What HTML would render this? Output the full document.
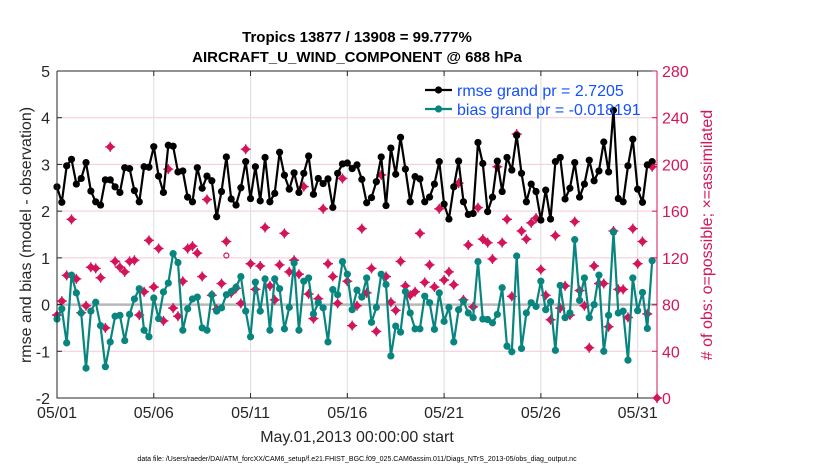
<!DOCTYPE html>
<html><head><meta charset="utf-8"><style>
body{margin:0;background:#fff;}
svg{display:block;font-family:"Liberation Sans",Arial,sans-serif;}
</style></head><body>
<svg id="chart" width="830" height="470" viewBox="0 0 830 470" xmlns="http://www.w3.org/2000/svg">
<rect x="0" y="0" width="830" height="470" fill="#fff"/>
<g id="grid"></g>
<g id="marks"></g>
<g id="axes"></g>
</svg>
<script>
const rmse=[2.52,2.19,2.97,3.11,2.58,2.70,3.04,2.43,2.20,2.13,2.67,2.67,2.52,2.40,2.93,2.91,2.44,2.20,2.95,2.94,3.38,2.75,2.40,3.41,3.39,2.84,2.86,2.30,2.20,2.93,2.49,
2.75,2.65,1.88,2.42,3.16,2.26,2.13,2.50,3.06,2.27,2.95,2.22,3.15,2.20,2.38,3.26,2.77,2.47,2.82,2.40,2.81,3.18,2.36,2.70,2.59,2.69,2.08,2.81,3.01,3.03,2.91,
2.99,2.68,2.18,2.29,2.63,3.16,2.12,3.35,2.79,3.58,2.90,2.20,2.74,2.69,2.20,2.30,2.58,3.06,2.15,1.83,2.52,3.07,2.20,1.93,1.95,3.47,3.02,1.99,2.30,3.07,2.42,
3.15,2.88,3.62,2.81,2.20,2.58,2.42,1.81,2.45,1.83,3.06,3.15,2.26,2.49,3.04,2.30,2.58,3.09,2.65,2.86,3.48,2.84,4.16,2.27,2.20,2.97,3.54,2.47,2.19,2.99,3.06,null];
const bias=[-0.31,-0.09,-0.82,0.63,0.25,-0.18,-1.36,-0.14,0.05,-0.45,-1.33,-0.80,-0.25,-0.23,-0.77,-0.21,0.12,0.34,-0.55,-0.69,0.14,-0.30,0.27,0.46,1.09,0.90,-0.55,-0.09,0.12,0.16,-0.50,
-0.55,0.21,-0.14,-0.07,0.21,0.28,0.37,0.60,-0.14,-0.69,0.48,-0.14,0.55,-0.55,0.55,0.34,-0.52,-0.06,0.89,-0.55,0.50,0.57,-0.20,0.04,-0.07,-0.80,0.32,0.21,0.92,0.65,-0.11,
0.31,0.16,0.57,-0.38,-0.06,0.65,0.43,-1.10,-0.46,-0.59,0.28,-0.18,-0.52,-0.52,0.18,0.04,-0.53,0.25,-0.36,-0.06,-0.80,-0.11,0.07,-0.18,-0.28,0.92,-0.31,-0.32,-0.39,-0.21,0.36,
-0.89,-1.01,1.04,-0.94,-0.18,0.04,-0.04,0.50,-0.11,0.06,-0.98,0.41,-0.28,-0.18,1.39,0.09,0.57,-0.28,0.00,0.63,-1.00,-0.23,1.55,-0.18,-0.14,-1.19,0.57,-0.13,0.26,-0.51,0.94,null];
const nobs=[71,83,105,153,102,73,79,112,111,103,60,215,117,112,108,117,118,71,91,135,95,128,66,196,77,70,100,128,130,124,104,
170,88,76,98,134,90,94,81,213,115,93,113,146,96,84,114,141,108,118,106,181,89,68,85,162,115,104,81,188,100,62,
79,145,90,111,57,191,104,82,75,117,96,88,91,141,99,114,95,162,101,108,97,184,84,131,78,163,136,133,119,198,133,
153,87,226,143,136,150,154,110,88,67,139,77,96,71,151,92,79,43,113,98,98,61,143,93,93,69,145,115,134,72,198,0];
const xTickLabels=["05/01","05/06","05/11","05/16","05/21","05/26","05/31"];
const xTickDays=[0,5,10,15,20,25,30];
const yTicks=[-2,-1,0,1,2,3,4,5];
const y2Ticks=[0,40,80,120,160,200,240,280];

const NS="http://www.w3.org/2000/svg";
const X0=57,X1=657,Y0=398,Y1=71;
const xs=d=>X0+(d/31)*(X1-X0);
const ys=v=>Y0-(v+2)/7*(Y0-Y1);
const ys2=c=>Y0-c/280*(Y0-Y1);
function mk(tag,attrs,parent,text){const e=document.createElementNS(NS,tag);for(const k in attrs)e.setAttribute(k,attrs[k]);if(text!==undefined)e.textContent=text;parent.appendChild(e);return e;}
const grid=document.getElementById('grid'),marks=document.getElementById('marks'),axes=document.getElementById('axes');
const RED="#d4145a",TEAL="#08857f",BLUE="#1450ff";

// grid
y2Ticks.forEach(c=>{const l=mk('line',{x1:X0,x2:X1,y1:ys2(c),y2:ys2(c),stroke:'#f3c9d8','stroke-width':1},grid);

});
xTickDays.forEach(d=>{const l=mk('line',{x1:xs(d),x2:xs(d),y1:Y1,y2:Y0,stroke:'#dddddd','stroke-width':1},grid);

});
const zl=mk('line',{x1:X0,x2:X1,y1:ys(0),y2:ys(0),stroke:'#b8b8b8','stroke-width':2.5},grid);



// obs markers
nobs.forEach((c,i)=>{if(c===null)return;const x=xs(i*0.25),y=ys2(c);
const g=mk('g',{},marks);


mk('path',{d:`M${x-4.5},${y}L${x},${y-4.5}L${x+4.5},${y}L${x},${y+4.5}Z`,fill:RED},g);
mk('path',{d:`M${x-5},${y}H${x+5}M${x},${y-5}V${y+5}`,stroke:RED,'stroke-width':1.3},g);});

function series(arr,color,name){
 let d='';arr.forEach((v,i)=>{if(v===null)return;d+=(d?'L':'M')+xs(i*0.25).toFixed(1)+','+ys(v).toFixed(1);});
 const p=mk('path',{d:d,fill:'none',stroke:color,'stroke-width':2.2,'stroke-linejoin':'round'},marks);
 
 
 arr.forEach((v,i)=>{if(v===null)return;const c=mk('circle',{cx:xs(i*0.25),cy:ys(v),r:3.6,fill:color},marks);
 
 });
}
series(bias,TEAL,'bias');
series(rmse,'#000','rmse');
// one "possible" circle
const oc=mk('circle',{cx:xs(8.75),cy:ys2(122),r:2.5,fill:'none',stroke:RED,'stroke-width':1.2},marks);



// axes box
const box=mk('path',{d:`M${X0},${Y1}V${Y0}H${X1}M${X0},${Y1}H${X1}`,fill:'none',stroke:'#262626','stroke-width':1},axes);


const ra=mk('line',{x1:X1,x2:X1,y1:Y1,y2:Y0,stroke:RED,'stroke-width':1},axes);


yTicks.forEach(v=>{const y=ys(v);mk('line',{x1:X0,x2:X0+5,y1:y,y2:y,stroke:'#262626'},axes);
const t=mk('text',{x:X0-7,y:y+6,'text-anchor':'end','font-size':16,fill:'#262626'},axes,String(v));

});
y2Ticks.forEach(c=>{const y=ys2(c);mk('line',{x1:X1,x2:X1-5,y1:y,y2:y,stroke:RED},axes);
const t=mk('text',{x:X1+5,y:y+6,'font-size':16,fill:RED},axes,String(c));

});
xTickDays.forEach((d,i)=>{const x=xs(d);mk('line',{x1:x,x2:x,y1:Y0,y2:Y0-5,stroke:'#262626'},axes);mk('line',{x1:x,x2:x,y1:Y1,y2:Y1+5,stroke:'#262626'},axes);
const t=mk('text',{x:x,y:418,'text-anchor':'middle','font-size':16,fill:'#262626'},axes,xTickLabels[i]);

});
</script>
<svg style="position:absolute;left:0;top:0" width="830" height="470">
<text x="357" y="42" text-anchor="middle" font-size="15" font-weight="bold" fill="#000" font-family="Liberation Sans, sans-serif">Tropics 13877 / 13908 = 99.777%</text>
<text x="357" y="62" text-anchor="middle" font-size="15" font-weight="bold" fill="#000" font-family="Liberation Sans, sans-serif">AIRCRAFT_U_WIND_COMPONENT @ 688 hPa</text>
<text transform="translate(31,235) rotate(-90)" text-anchor="middle" font-size="16" fill="#262626" font-family="Liberation Sans, sans-serif">rmse and bias (model - observation)</text>
<text transform="translate(712,235) rotate(-90)" text-anchor="middle" font-size="16" fill="#d4145a" font-family="Liberation Sans, sans-serif"># of obs: o=possible; ×=assimilated</text>
<text x="357" y="442" text-anchor="middle" font-size="16" fill="#262626" font-family="Liberation Sans, sans-serif">May.01,2013 00:00:00 start</text>
<text x="357" y="461" text-anchor="middle" font-size="7" fill="#000" font-family="Liberation Sans, sans-serif">data file: /Users/raeder/DAI/ATM_forcXX/CAM6_setup/f.e21.FHIST_BGC.f09_025.CAM6assim.011/Diags_NTrS_2013-05/obs_diag_output.nc</text>
<g>
<g>
<line x1="425" x2="452" y1="90" y2="90" stroke="#000" stroke-width="2.2"/><circle cx="438.5" cy="90" r="3.6" fill="#000"/>
<text x="457" y="96" font-size="16" fill="#1450ff" font-family="Liberation Sans, sans-serif">rmse grand pr = 2.7205</text></g>
<g>
<line x1="425" x2="452" y1="109" y2="109" stroke="#08857f" stroke-width="2.2"/><circle cx="438.5" cy="109" r="3.6" fill="#08857f"/>
<text x="457" y="115" font-size="16" fill="#1450ff" font-family="Liberation Sans, sans-serif">bias grand pr = -0.018191</text></g>
</g>
</svg>
</body></html>
